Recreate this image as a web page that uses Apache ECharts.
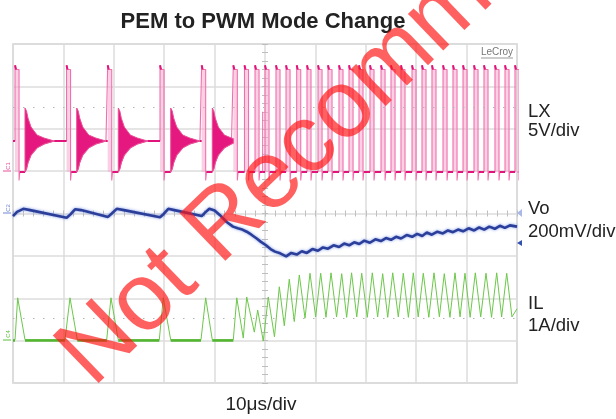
<!DOCTYPE html>
<html><head><meta charset="utf-8">
<script src="https://cdn.jsdelivr.net/npm/echarts@6/dist/echarts.min.js"></script>
<style>html,body{margin:0;padding:0;background:#fff}#c{width:616px;height:419px}</style>
</head><body><div id="c"></div>
<script>
// ---------- data: time in µs (10 µs/div), amplitude in screen divisions (0 = bottom of graticule) ----------
const pemPulseRise = [0.40, 10.62, 18.79, 29.17, 37.43];
const ringStart = [2.38, 12.64, 20.89, 31.29, 39.54];
const pwmPulseRise = [43.71, 45.93, 48.02, 50.00, 52.18, 54.17, 56.29, 58.33, 60.52, 62.50, 64.68, 66.67, 68.65,
  70.83, 73.02, 75.00, 76.98, 79.17, 81.15, 83.13, 85.32, 87.30, 89.29, 91.47, 93.45, 95.63, 97.62, 99.60];
const lxLevels = {idle: 5.71, high: 7.40, over: 7.50, low: 4.98, under: 4.78};
const lxPulseWidth = 0.8;
const lxSpike = [49.54, 6.40];
const ringEnvOffset = [0, 0.3, 0.6, 1.2, 2.4, 3.8, 5.8];
const ringEnvUpper = [6.49, 6.42, 6.25, 6.04, 5.85, 5.78, 5.71];
const ringEnvLower = [4.98, 5.05, 5.20, 5.38, 5.55, 5.64, 5.71];
const lxDotLevel = 6.51;
const ilDotLevel = 1.53;

const voTrace = [[0,3.94],[0.8,4.04],[2.04,4.11],[3.4,4.08],[10.65,3.90],[11.4,3.98],[12.3,4.10],[13.5,4.08],
  [18.85,3.92],[19.6,4.00],[20.58,4.11],[22,4.08],[29.17,3.91],[29.9,3.99],[30.81,4.11],[32,4.08],
  [37.44,3.94],[38.1,4.02],[38.95,4.11],[40,4.07],[41.07,3.96],[42.4,3.80],[43.65,3.69],[44.6,3.65],[45.3,3.63],
  [46.37,3.57],[47.3,3.50],[48.35,3.41],[49.2,3.33],[50.2,3.25],[51.1,3.16],[51.98,3.10],[53.0,3.06],
  [54.2,2.99],[55.2,3.07],[56.3,3.03],[57.3,3.11],[58.3,3.07],[59.4,3.16],[60.5,3.12],[61.5,3.20],[62.5,3.17],
  [63.6,3.25],[64.7,3.21],[65.7,3.29],[66.7,3.25],[67.7,3.32],[68.7,3.28],[69.7,3.36],[70.8,3.31],[71.9,3.39],
  [73.0,3.35],[74.0,3.42],[75.0,3.38],[76.0,3.45],[77.0,3.41],[78.1,3.49],[79.2,3.45],[80.2,3.52],[81.2,3.47],
  [82.1,3.55],[83.1,3.50],[84.2,3.57],[85.3,3.53],[86.3,3.60],[87.3,3.56],[88.3,3.62],[89.3,3.58],[90.4,3.65],
  [91.5,3.60],[92.5,3.67],[93.5,3.62],[94.5,3.69],[95.6,3.64],[96.6,3.71],[97.6,3.66],[98.6,3.72],[100,3.69]];

const ilTrace = [[0,1.02],[0.40,1.02],[0.93,2.01],[2.38,1.02],
  [10.32,1.02],[11.31,2.01],[12.76,1.02],[18.59,1.02],[19.44,2.01],[20.89,1.02],
  [29.03,1.02],[29.82,2.01],[31.29,1.02],[37.30,1.02],[38.23,2.01],[39.54,1.02],
  [43.71,1.02],[44.40,2.01],[45.69,1.06],[46.37,2.03],[47.88,1.20],[48.55,1.72],[49.66,0.99],[50.65,2.03],
  [51.88,1.09],[52.84,2.27],[53.83,1.35],[54.82,2.45],[55.81,1.45],[56.81,2.55],[57.94,1.53],[58.93,2.59],
  [60.05,1.56],[61.05,2.59],[62.10,1.55],[63.10,2.60],[64.20,1.56],[65.22,2.58],[66.20,1.55],[67.18,2.60],
  [68.20,1.56],[69.19,2.59],[70.30,1.55],[71.29,2.60],[72.35,1.56],[73.35,2.58],[74.35,1.55],[75.34,2.60],
  [76.45,1.56],[77.44,2.59],[78.45,1.55],[79.43,2.60],[80.40,1.56],[81.41,2.59],[82.50,1.55],[83.53,2.60],
  [84.60,1.56],[85.57,2.58],[86.70,1.55],[87.70,2.60],[88.70,1.56],[89.68,2.59],[90.70,1.55],[91.73,2.60],
  [92.80,1.56],[93.85,2.59],[94.95,1.55],[95.97,2.60],[96.95,1.56],[97.96,2.59],[99.0,1.56],[100,1.75]];

const titleText = 'PEM to PWM Mode Change';
const xLabel = '10μs/div';
const channelLabels = [['LX', '5V/div'], ['Vo', '200mV/div'], ['IL', '1A/div']];
const watermark = 'Not Recommended for New Designs';

// ---------- build drawable structures ----------
function nextPulseAfterRing(i) { return i + 1 < pemPulseRise.length ? pemPulseRise[i + 1] : pwmPulseRise[0]; }

function ringEnvelope(i) {
  const ts = ringStart[i], maxOff = nextPulseAfterRing(i) - ts;
  const up = [], lo = [];
  for (let k = 0; k < ringEnvOffset.length; k++) {
    const off = ringEnvOffset[k];
    if (off <= maxOff) { up.push([ts + off, ringEnvUpper[k]]); lo.push([ts + off, ringEnvLower[k]]); }
    else {
      const o0 = ringEnvOffset[k - 1], f = (maxOff - o0) / (off - o0);
      up.push([ts + maxOff, ringEnvUpper[k - 1] + f * (ringEnvUpper[k] - ringEnvUpper[k - 1])]);
      lo.push([ts + maxOff, ringEnvLower[k - 1] + f * (ringEnvLower[k] - ringEnvLower[k - 1])]);
      break;
    }
  }
  return {up, lo};
}
const ringEnvs = ringStart.map((t, i) => ringEnvelope(i));
const ringPolys = ringEnvs.map(e => e.up.concat(e.lo.slice().reverse()));

function buildLX() {
  const pts = [], flats = [];
  let cur = [0, lxLevels.idle];
  pts.push(cur);
  function to(t, v) {
    const p = [t, v];
    if (v === cur[1] && v < 6.5 && t > cur[0]) flats.push({coords: [cur, p]});
    pts.push(p); cur = p;
  }
  function pulse(tr) {
    to(tr, cur[1]);
    to(tr, lxLevels.over);
    flats.push({coords: [[tr, lxLevels.over], [tr + 0.2, lxLevels.high]]});
    to(tr + 0.2, lxLevels.high);
    to(tr + lxPulseWidth, lxLevels.high);
    to(tr + lxPulseWidth, lxLevels.under);
    to(tr + lxPulseWidth + 0.15, lxLevels.low);
  }
  pemPulseRise.forEach((tr, i) => {
    pulse(tr);
    to(ringStart[i], lxLevels.low);
    ringEnvs[i].lo.forEach(p => to(p[0], p[1]));
  });
  pwmPulseRise.forEach(tr => {
    if (lxSpike[0] < tr && lxSpike[0] > cur[0]) {
      to(lxSpike[0], lxLevels.low); to(lxSpike[0], lxSpike[1]); to(lxSpike[0], lxLevels.low);
    }
    pulse(tr);
  });
  to(100, lxLevels.low);
  return {pts, flats};
}
const lx = buildLX();

function flatSegs(trace) {
  const out = [];
  for (let i = 1; i < trace.length; i++)
    if (trace[i][1] === trace[i - 1][1] && trace[i][0] > trace[i - 1][0]) out.push({coords: [trace[i - 1], trace[i]]});
  return out;
}

// ---------- chart ----------
const FONT = '"Liberation Sans", Arial, sans-serif';
const chart = echarts.init(document.getElementById('c'), null, {renderer: 'canvas'});
const G = {left: 13, top: 44, width: 504, height: 339};
const tickStyle = {color: '#bdbdbd', width: 1};

const xAxes = [
  {type: 'value', min: 0, max: 100, interval: 10, axisLabel: {show: false}, axisLine: {show: false}, axisTick: {show: false},
   splitLine: {show: true, lineStyle: {color: '#dcdcdc', width: 1.5}}},
  {type: 'value', min: 0, max: 100, interval: 10, position: 'bottom', offset: -169.5, axisLabel: {show: false},
   axisLine: {show: false}, axisTick: {show: true, inside: false, length: 3, lineStyle: tickStyle},
   minorTick: {show: true, splitNumber: 5, length: 3, lineStyle: tickStyle}, splitLine: {show: false}},
  {type: 'value', min: 0, max: 100, interval: 10, position: 'bottom', offset: -169.5, axisLabel: {show: false},
   axisLine: {show: false}, axisTick: {show: true, inside: true, length: 3, lineStyle: tickStyle},
   minorTick: {show: true, splitNumber: 5, length: 3, lineStyle: tickStyle}, splitLine: {show: false}}
];
const yAxes = [
  {type: 'value', min: 0, max: 8, interval: 1, axisLabel: {show: false}, axisLine: {show: false}, axisTick: {show: false},
   splitLine: {show: true, lineStyle: {color: '#dcdcdc', width: 1.5}}},
  {type: 'value', min: 0, max: 8, interval: 1, position: 'left', offset: -252, axisLabel: {show: false},
   axisLine: {show: false}, axisTick: {show: true, inside: false, length: 3, lineStyle: tickStyle},
   minorTick: {show: true, splitNumber: 5, length: 3, lineStyle: tickStyle}, splitLine: {show: false}},
  {type: 'value', min: 0, max: 8, interval: 1, position: 'left', offset: -252, axisLabel: {show: false},
   axisLine: {show: false}, axisTick: {show: true, inside: true, length: 3, lineStyle: tickStyle},
   minorTick: {show: true, splitNumber: 5, length: 3, lineStyle: tickStyle}, splitLine: {show: false}}
];

const graphics = [
  {type: 'text', x: 263, y: 22, z: 50, style: {text: titleText, font: 'bold 22px ' + FONT, fill: '#222',
    textAlign: 'center', textVerticalAlign: 'middle', verticalAlign: 'middle'}},
  {type: 'text', x: 261, y: 405, z: 50, style: {text: xLabel, font: '19px ' + FONT, fill: '#222',
    textAlign: 'center', textVerticalAlign: 'middle', verticalAlign: 'middle'}},
  // LeCroy badge
  {type: 'text', x: 497, y: 52, z: 50, style: {text: 'LeCroy', font: '10px ' + FONT, fill: '#777',
    textAlign: 'center', textVerticalAlign: 'middle', verticalAlign: 'middle'}},
  {type: 'line', z: 50, shape: {x1: 481, y1: 58, x2: 513, y2: 58}, style: {stroke: '#999', lineWidth: 1}},
  // channel tags on left
  {type: 'text', x: 8, y: 166, rotation: Math.PI / 2, z: 50, style: {text: 'C1', font: '6px ' + FONT, fill: '#e8509a',
    textAlign: 'center', textVerticalAlign: 'middle', verticalAlign: 'middle'}},
  {type: 'line', z: 50, shape: {x1: 3, y1: 171, x2: 11, y2: 171}, style: {stroke: '#e8509a', lineWidth: 1}},
  {type: 'text', x: 8, y: 208, rotation: Math.PI / 2, z: 50, style: {text: 'C2', font: '6px ' + FONT, fill: '#6f86d0',
    textAlign: 'center', textVerticalAlign: 'middle', verticalAlign: 'middle'}},
  {type: 'line', z: 50, shape: {x1: 3, y1: 213, x2: 11, y2: 213}, style: {stroke: '#6f86d0', lineWidth: 1}},
  {type: 'text', x: 8, y: 334, rotation: Math.PI / 2, z: 50, style: {text: 'C4', font: '6px ' + FONT, fill: '#5bbf3a',
    textAlign: 'center', textVerticalAlign: 'middle', verticalAlign: 'middle'}},
  {type: 'line', z: 50, shape: {x1: 3, y1: 340, x2: 11, y2: 340}, style: {stroke: '#5bbf3a', lineWidth: 1}},
  // right markers
  {type: 'polygon', z: 50, shape: {points: [[517, 213], [522, 209], [522, 217]]}, style: {fill: '#a9b8e6'}},
  {type: 'polygon', z: 50, shape: {points: [[517, 243], [522, 240], [522, 246]]}, style: {fill: '#3550b0'}},
  // watermark
  {type: 'text', x: 108, y: 404, rotation: 44 * Math.PI / 180, z: 100, silent: true,
   style: {text: watermark, font: '96px ' + FONT, fill: 'rgba(255,20,20,0.68)', textAlign: 'left',
     textVerticalAlign: 'bottom', verticalAlign: 'bottom'}}
];
const labelY = [[112, 131], [209, 232], [303.5, 326]];
channelLabels.forEach((pair, i) => {
  pair.forEach((txt, j) => graphics.push({type: 'text', x: 528, y: labelY[i][j], z: 50,
    style: {text: txt, font: '18.5px ' + FONT, fill: '#222', textAlign: 'left', textVerticalAlign: 'middle', verticalAlign: 'middle'}}));
});

const option = {
  animation: false,
  backgroundColor: '#fff',
  grid: Object.assign({show: true, borderColor: '#cfcfcf', borderWidth: 1.5, backgroundColor: 'transparent'}, G),
  xAxis: xAxes, yAxis: yAxes,
  graphic: graphics,
  series: [
    {type: 'custom', name: 'LX band', z: 2, silent: true, xAxisIndex: 0, yAxisIndex: 0,
     data: pemPulseRise.concat(pwmPulseRise).map(t => [t, lxLevels.high]), encode: {x: 0, y: 1},
     renderItem: (params, api) => {
       const tr = api.value(0);
       const a = api.coord([tr, lxLevels.high]), b = api.coord([tr + lxPulseWidth, lxLevels.low]);
       const r = echarts.graphic.clipRectByRect({x: a[0], y: a[1], width: b[0] - a[0], height: b[1] - a[1]}, params.coordSys);
       return r ? {type: 'rect', shape: r, style: {fill: 'rgba(246,170,205,0.55)'}} : null;
     }},
    {type: 'line', name: 'LX', z: 3, silent: true, data: lx.pts, showSymbol: false, symbol: 'none',
     lineStyle: {color: '#f070ad', width: 1.1}, clip: true,
     markLine: {silent: true, symbol: 'none', label: {show: false},
       lineStyle: {color: '#b5b5b5', width: 1, type: [1.5, 8.5]}, data: [{yAxis: lxDotLevel}, {yAxis: ilDotLevel}]}},
    {type: 'lines', name: 'LX flat', coordinateSystem: 'cartesian2d', z: 4, silent: true, data: lx.flats,
     lineStyle: {color: '#e0147b', width: 2, opacity: 1}},
    {type: 'custom', name: 'LX ring', z: 4, silent: true, data: ringStart.map(t => [t, lxLevels.idle]), encode: {x: 0, y: 1},
     renderItem: (params, api) => ({type: 'polygon', shape: {points: ringPolys[params.dataIndex].map(p => api.coord(p))},
       style: {fill: '#e4187e', stroke: '#ea4f97', lineWidth: 1}})},
    {type: 'line', name: 'Vo', z: 5, silent: true, data: voTrace, showSymbol: false, symbol: 'none',
     lineStyle: {color: '#2b3f9a', width: 2.6, shadowColor: 'rgba(100,130,225,0.8)', shadowBlur: 3}},
    {type: 'line', name: 'IL', z: 5, silent: true, data: ilTrace, showSymbol: false, symbol: 'none',
     lineStyle: {color: '#6cc84a', width: 1}},
    {type: 'lines', name: 'IL flat', coordinateSystem: 'cartesian2d', z: 6, silent: true, data: flatSegs(ilTrace),
     lineStyle: {color: '#52b530', width: 2.6, opacity: 1}}
  ]
};
chart.setOption(option);
</script>
</body></html>
